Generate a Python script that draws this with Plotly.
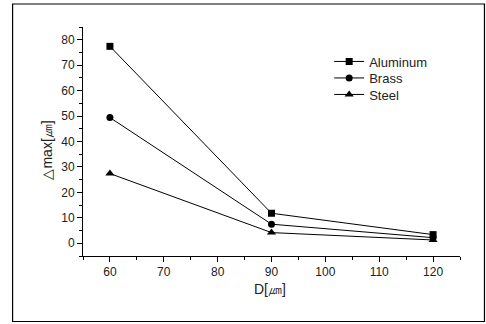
import plotly.graph_objects as go

x_vals = [60, 90, 120]
aluminum = [77.4, 11.8, 3.4]
brass = [49.4, 7.5, 2.2]
steel = [27.4, 4.2, 1.3]
series_names = ["Aluminum", "Brass", "Steel"]
symbols = ["square", "circle", "triangle-up"]
marker_sizes = [7, 7, 8]
legend_ids = ["legend", "legend2", "legend3"]

fig = go.Figure()
for name, ys, sym, ms, lg in zip(series_names, [aluminum, brass, steel], symbols, marker_sizes, legend_ids):
    fig.add_trace(go.Scatter(
        x=x_vals, y=ys, name=name, mode="lines+markers", legend=lg,
        line=dict(color="black", width=1),
        marker=dict(symbol=sym, size=ms, color="black"),
    ))

L, R, T, B = 82.5, 26, 27, 68
W, H = 486, 324
pw, ph = W - L - R, H - T - B

def px(xp):
    return (xp - L) / pw

def py(yp):
    return (H - B - yp) / ph

FONT = "Liberation Sans, Arial"

fig.add_shape(type="rect", xref="paper", yref="paper",
              x0=px(12), x1=px(484.5), y0=py(321.5), y1=py(4),
              line=dict(color="black", width=1.2), fillcolor="rgba(0,0,0,0)")

axis_common = dict(
    showgrid=False, zeroline=False, showline=True, linecolor="black", linewidth=1,
    ticks="outside", ticklen=5, tickwidth=1, tickcolor="black", automargin=False,
    tickfont=dict(family=FONT, size=12, color="#222"),
    minor=dict(ticks="outside", ticklen=3, tickwidth=1, tickcolor="black", dtick=5),
)

fig.update_xaxes(range=[55, 125], tick0=60, dtick=10, **axis_common)
fig.update_yaxes(range=[-5, 85], tick0=0, dtick=10, **axis_common)

fig.add_annotation(text="D[㎛]", xref="paper", yref="paper", x=px(270), y=py(289),
                   showarrow=False, xanchor="center", yanchor="middle",
                   font=dict(family=FONT, size=14, color="#222"))
fig.add_annotation(text="△max[㎛]", xref="paper", yref="paper", x=px(46), y=py(150),
                   showarrow=False, xanchor="center", yanchor="middle", textangle=-90,
                   font=dict(family=FONT, size=14, color="#222"))

leg_rows = [61.5, 78, 94.5]
leg_style = dict(xanchor="left", yanchor="middle", bgcolor="rgba(0,0,0,0)",
                 font=dict(family=FONT, size=13, color="#222"), borderwidth=0)
fig.update_layout(
    width=W, height=H,
    margin=dict(l=L, r=R, t=T, b=B, autoexpand=False),
    paper_bgcolor="white", plot_bgcolor="white",
    showlegend=True,
    legend=dict(x=px(329), y=py(leg_rows[0]), **leg_style),
    legend2=dict(x=px(329), y=py(leg_rows[1]), **leg_style),
    legend3=dict(x=px(329), y=py(leg_rows[2]), **leg_style),
)

fig.write_html("out.html", config={"displayModeBar": False},
               post_script="document.body.style.margin='0';document.body.style.overflow='hidden';")
